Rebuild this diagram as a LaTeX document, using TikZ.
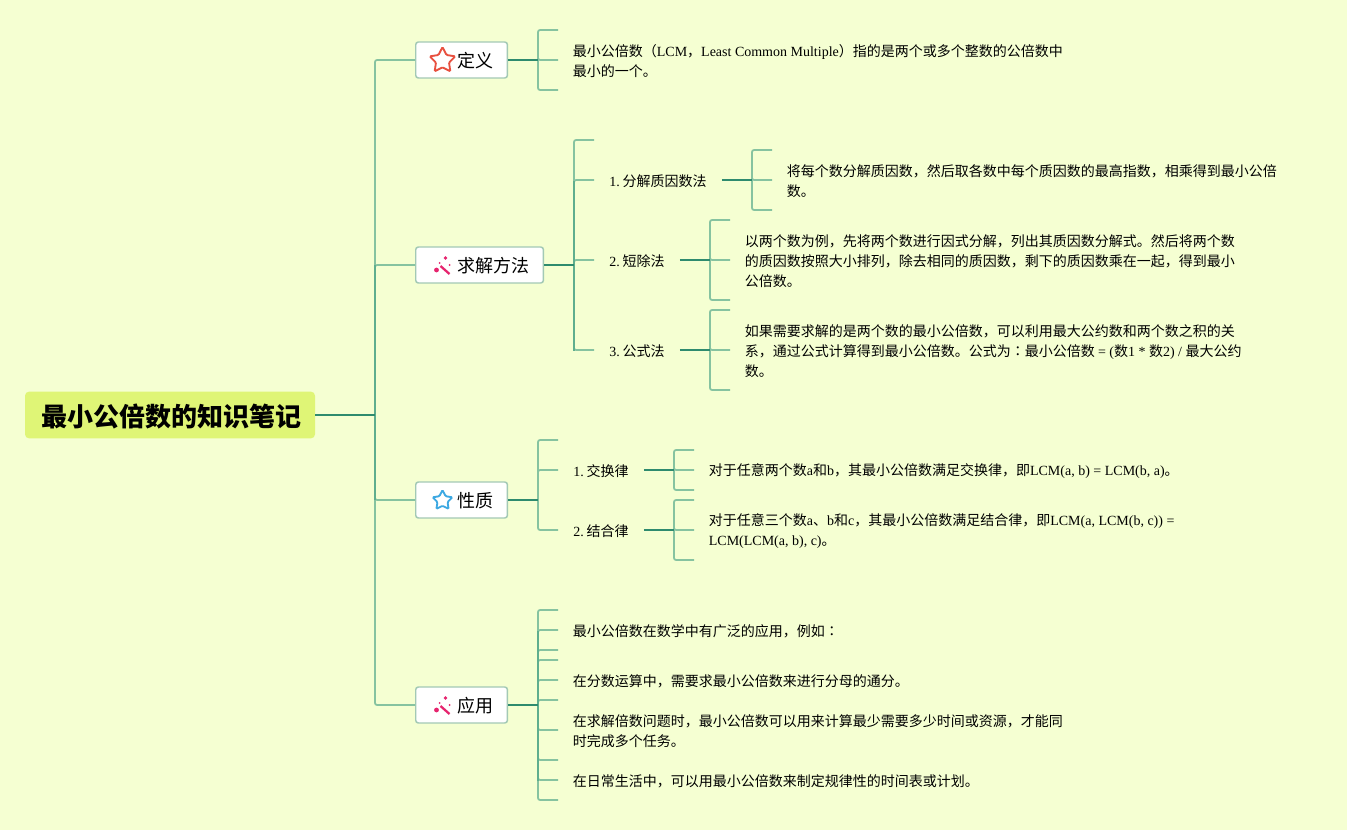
\documentclass[tikz,border=0pt]{standalone}
\usepackage{fontspec}
\setmainfont{Noto Sans CJK SC}
\newfontfamily\latfont{Liberation Serif}
\newfontfamily\tcfont{Noto Sans CJK TC}
\newcommand{\lat}[1]{{\latfont #1}}
\newcommand{\numlab}[1]{\lat{#1.}\kern2.1pt}
\usetikzlibrary{shapes.geometric}
\definecolor{pagebg}{HTML}{F5FFD2}
\definecolor{rootfill}{HTML}{DFF576}
\definecolor{twigcol}{HTML}{86C3A0}
\definecolor{midcol}{HTML}{5FAE8E}
\definecolor{stemcol}{HTML}{2E8B6E}
\definecolor{boxline}{HTML}{A3C9B5}
\definecolor{wandcol}{HTML}{E6246E}
\definecolor{starred}{HTML}{E8503F}
\definecolor{starblue}{HTML}{3CA8E2}
\tikzset{
  rootbox/.style={fill=rootfill,rounded corners=3pt,minimum width=217.5pt,minimum height=35pt,
    font=\fontsize{19.5}{24}\selectfont\bfseries,inner sep=0pt,text height=22pt,text depth=4.2pt},
  branchbox/.style={draw=boxline,line width=1.1pt,fill=white,rounded corners=2pt,minimum height=27pt,
    anchor=west,font=\fontsize{13.5}{16}\selectfont,inner sep=0pt,text height=15pt,text depth=3.3pt},
  midtext/.style={anchor=west,font=\fontsize{10.5}{15}\selectfont,inner sep=0pt,yshift=-.3pt},
  leaftext/.style={anchor=west,align=left,font=\fontsize{10.5}{15}\selectfont,inner sep=0pt,xshift=-.3pt,yshift=-.3pt},
  twig/.style={draw=twigcol,line width=1.3pt,rounded corners=1.5pt},
  midtwig/.style={draw=midcol,line width=1.3pt},
  stem/.style={draw=stemcol,line width=1.5pt},
  staricon/.style={star,star points=5,star point ratio=1.95,draw,line width=1.4pt,rounded corners=.8pt,inner sep=0pt}
}
\begin{document}
\begin{tikzpicture}[x=.75pt,y=-.75pt]

        \fill[pagebg] (0,0) rectangle (1347,830);

        \node[rootbox] (root) at (170,415) {\hspace*{2pt}最小公倍数的知识笔记};

        \begin{scope}[every node/.style={branchbox}]
          \node[minimum width=68.75pt] (defbox)  at (415,60)  {\hspace*{21.5pt}定义};
          \node[minimum width=95.75pt] (solvebox) at (415,265) {\hspace*{21.5pt}求解方法};
          \node[minimum width=68.75pt] (propbox) at (415,500) {\hspace*{21.5pt}性质};
          \node[minimum width=68.75pt] (usebox)  at (415,705) {\hspace*{21.5pt}应用};
        \end{scope}

        \node[staricon,draw=starred,minimum size=20pt] (defstar) at (442.5,60.5) {};
        \node[staricon,draw=starblue,minimum size=15.5pt] (propstar) at (442.5,500.5) {};

        % wand icons
        \foreach \cx/\cy in {442.5/266,442.5/706}{
          \begin{scope}[shift={(\cx,\cy)},wandcol]
            \draw[line width=1.7pt] (-2,0) -- (7,8);
            \fill (-6,4) circle (2.4) (3,-8) circle (1.9);
            \fill (7,-1) circle (1) (-3,-3) circle (1);
          \end{scope}
        }

        \begin{scope}[every node/.style={midtext}]
          \node (factor) at (609,181) {\numlab{1}分解质因数法};
          \node (short)  at (609,261) {\numlab{2}短除法};
          \node (formula) at (609,351) {\numlab{3}公式法};
          \node (swap)   at (573,471) {\numlab{1}交换律};
          \node (assoc)  at (573,531) {\numlab{2}结合律};
        \end{scope}

        \begin{scope}[every node/.style={leaftext}]
          \node (defleaf) at (573,61) {最小公倍数（\lat{LCM}，\lat{Least Common Multiple}）指的是两个或多个整数的公倍数中\\最小的一个。};
          \node (factorleaf) at (787,181) {将每个数分解质因数，然后取各数中每个质因数的最高指数，相乘得到最小公倍\\数。};
          \node (shortleaf) at (745,261) {以两个数为例，先将两个数进行因式分解，列出其质因数分解式。然后将两个数\\的质因数按照大小排列，除去相同的质因数，剩下的质因数乘在一起，得到最小\\公倍数。};
          \node (formulaleaf) at (745,351) {如果需要求解的是两个数的最小公倍数，可以利用最大公约数和两个数之积的关\\系，通过公式计算得到最小公倍数。公式为{\tcfont ：}最小公倍数 \lat{= (}数\lat{1 * }数\lat{2) / }最大公约\\数。};
          \node (swapleaf) at (709,471) {对于任意两个数\lat{a}和\lat{b}，其最小公倍数满足交换律，即\lat{LCM(a, b) = LCM(b, a)}。};
          \node (assocleaf) at (709,531) {对于任意三个数\lat{a}、\lat{b}和\lat{c}，其最小公倍数满足结合律，即\lat{LCM(a, LCM(b, c)) =}\\\lat{LCM(LCM(a, b), c)}。};
          \node (useintro) at (573,631) {最小公倍数在数学中有广泛的应用，例如{\tcfont ：}};
          \node (usefrac) at (573,681) {在分数运算中，需要求最小公倍数来进行分母的通分。};
          \node (usemult) at (573,731) {在求解倍数问题时，最小公倍数可以用来计算最少需要多少时间或资源，才能同\\时完成多个任务。};
          \node (usedaily) at (573,781) {在日常生活中，可以用最小公倍数来制定规律性的时间表或计划。};
        \end{scope}

        % hubs where a stem meets its bracket
        \coordinate (trunk) at (375,415);
        \coordinate (defhub) at (538,60);
        \coordinate (solvehub) at (574,265);
        \coordinate (prophub) at (538,500);
        \coordinate (usehub) at (538,705);
        \coordinate (factorhub) at (752,180);
        \coordinate (shorthub) at (710,260);
        \coordinate (formulahub) at (710,350);
        \coordinate (swaphub) at (674,470);
        \coordinate (assochub) at (674,530);

        % brackets: hub/end x/list of stub heights
        \foreach \hub/\ex/\ylist in {defhub/558/{30,60,90},solvehub/594/{140,180,260,350},
            prophub/558/{440,470,530},usehub/558/{610,630,650,660,680,700,730,760,780,800},
            factorhub/772/{150,180,210},shorthub/730/{220,260,300},formulahub/730/{310,350,390},
            swaphub/694/{450,470,490},assochub/694/{500,530,560}}{
          \foreach \yy in \ylist {
            \coordinate (stub) at (\ex,\yy);
            \draw[twig] (\hub) |- (stub);
          }
        }

        \foreach \boxname in {defbox,solvebox,propbox,usebox}{
          \draw[twig] (trunk) |- (\boxname.west);
        }

        % darker middle part of the long brackets
        \path (trunk |- solvebox.west) coordinate (trunktop) (trunk |- propbox.west) coordinate (trunkend);
        \draw[midtwig] (trunktop) -- (trunkend);
        \path (solvehub |- factor) coordinate (solvetop) (solvehub |- formula) coordinate (solveend);
        \draw[midtwig] (solvetop) -- (solveend);
        \path (usehub |- useintro) coordinate (usetop) (usehub |- usedaily) coordinate (useend);
        \draw[midtwig] (usetop) -- (useend);

        \begin{scope}[every path/.style={stem}]
          \path (root.east |- trunk) edge[stem] (trunk);
          \path (defbox.east) edge[stem] (defhub);
          \path (solvebox.east) edge[stem] (solvehub);
          \path (propbox.east) edge[stem] (prophub);
          \path (usebox.east) edge[stem] (usehub);
          \path (factor.east) ++(15,0) coordinate (factorstart) (factorstart |- factorhub) edge[stem] (factorhub);
          \path (short.east) ++(15,0) coordinate (shortstart) (shortstart |- shorthub) edge[stem] (shorthub);
          \path (formula.east) ++(15,0) coordinate (formulastart) (formulastart |- formulahub) edge[stem] (formulahub);
          \path (swap.east) ++(15,0) coordinate (swapstart) (swapstart |- swaphub) edge[stem] (swaphub);
          \path (assoc.east) ++(15,0) coordinate (assocstart) (assocstart |- assochub) edge[stem] (assochub);
        \end{scope}

      \end{tikzpicture}
\end{document}
